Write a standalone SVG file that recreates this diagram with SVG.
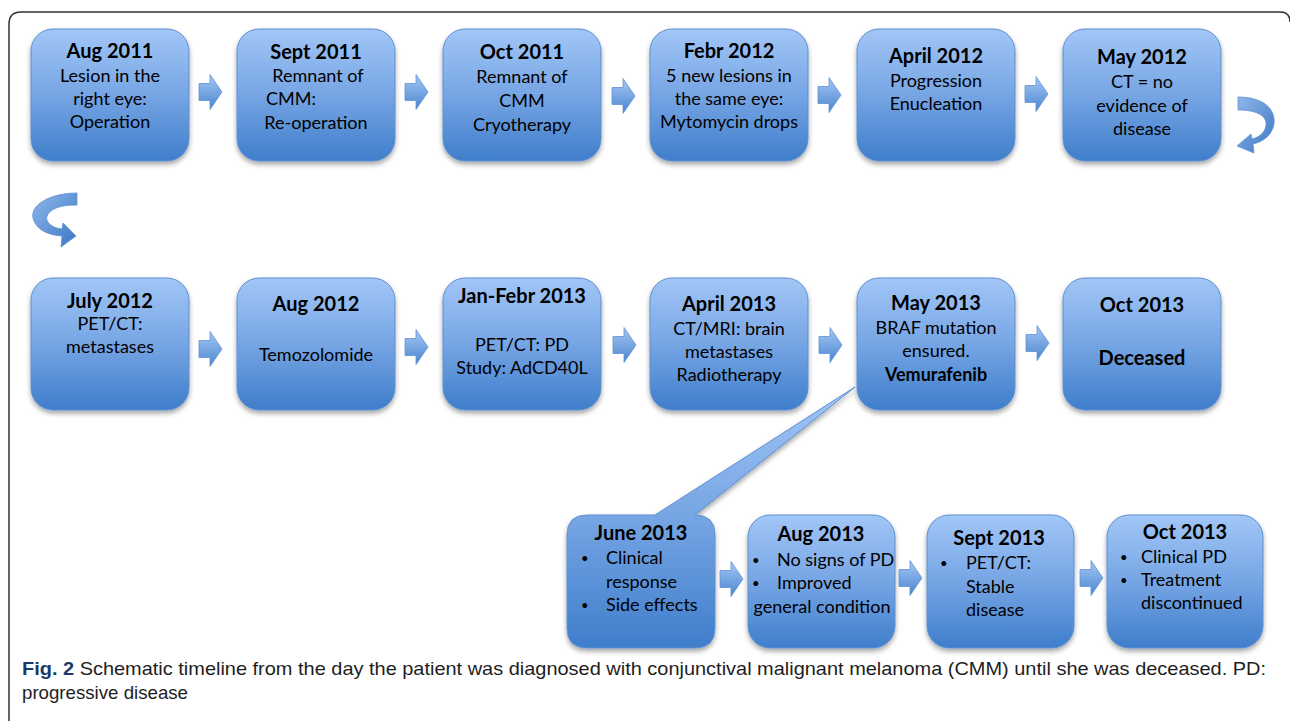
<svg xmlns="http://www.w3.org/2000/svg" width="1290" height="721" viewBox="0 0 1290 721">
<defs>
<linearGradient id="gBox" x1="0" y1="0" x2="0" y2="1">
<stop offset="0" stop-color="#a2c6f7"/>
<stop offset="0.5" stop-color="#76a5e4"/>
<stop offset="1" stop-color="#3f7ecb"/>
</linearGradient>
<linearGradient id="gArr" x1="0" y1="0" x2="0" y2="1">
<stop offset="0" stop-color="#a6c8f4"/>
<stop offset="1" stop-color="#4a86d0"/>
</linearGradient>
<linearGradient id="gCurve" x1="0" y1="0" x2="1" y2="1">
<stop offset="0" stop-color="#8fb6ea"/>
<stop offset="1" stop-color="#3c78c4"/>
</linearGradient>
<filter id="sh" x="-10%" y="-10%" width="120%" height="130%">
<feDropShadow dx="0" dy="3" stdDeviation="2.5" flood-color="#000" flood-opacity="0.35"/>
</filter>
<path id="arr" d="M0 -8.5 H11 V-17.5 L23 0 L11 17.5 V8.5 H0 Z"/>
</defs>
<style>
.box{fill:url(#gBox);stroke:#5d8fd0;stroke-width:1;filter:url(#sh)}
.a{fill:url(#gArr);stroke:#5f92d4;stroke-width:0.8}
.t{font-family:Lato,"Liberation Sans",sans-serif;font-size:20px;font-weight:bold;fill:#000;text-anchor:middle}
.b{font-family:Lato,"Liberation Sans",sans-serif;font-size:18px;fill:#000;text-anchor:middle}
.bl{font-family:Lato,"Liberation Sans",sans-serif;font-size:18px;fill:#000;text-anchor:start}
.dot{font-family:Lato,"Liberation Sans",sans-serif;font-size:13px;fill:#000;text-anchor:start}
.cap{font-family:"Liberation Sans",sans-serif;font-size:19px;fill:#1e1e1e}
</style>
<rect width="1290" height="721" fill="#fff"/>
<path d="M9 721 V24 Q9 12 21 12 H1280 Q1290 12 1290 22" fill="none" stroke="#333" stroke-width="1.5"/>

<g id="connectors">
<use href="#arr" class="a" x="199" y="92"/>
<use href="#arr" class="a" x="405" y="92"/>
<use href="#arr" class="a" x="612" y="96"/>
<use href="#arr" class="a" x="818" y="95"/>
<use href="#arr" class="a" x="1025" y="94"/>
<path class="a" style="fill:url(#gCurve)" d="M1238 97 C1262 97 1276 108 1274 124 C1272 136 1262 142 1253 144 L1254 153 L1237 146 L1251 134 L1252 139 C1261 137 1267 130 1266 122 C1264 113 1252 110 1238 110 Z"/>
<path class="a" style="fill:url(#gCurve)" d="M77 193 C50 193 30 205 33 218 C36 230 48 235 62 236 L61 247 L76 236 L63 223 L62 229 C52 228 45 222 47 216 C50 208 62 205 77 205 Z"/>
<use href="#arr" class="a" x="199" y="349"/>
<use href="#arr" class="a" x="405" y="347"/>
<use href="#arr" class="a" x="613" y="345"/>
<use href="#arr" class="a" x="819" y="345"/>
<use href="#arr" class="a" x="1026" y="343"/>
<use href="#arr" class="a" x="720" y="579"/>
<use href="#arr" class="a" x="899" y="578"/>
<use href="#arr" class="a" x="1080" y="578"/>
</g>

<g id="n1"><rect class="box" x="31" y="29" width="158" height="132" rx="22"/>
<text class="t" x="110" y="58">Aug 2011</text>
<text class="b" x="110" y="82">Lesion in the</text>
<text class="b" x="110" y="105">right eye:</text>
<text class="b" x="110" y="128">Operation</text></g>

<g id="n2"><rect class="box" x="237" y="29" width="158" height="132" rx="22"/>
<text class="t" x="316" y="59">Sept 2011</text>
<text class="b" x="318" y="82">Remnant of</text>
<text class="bl" x="266" y="105">CMM:</text>
<text class="b" x="316" y="129">Re-operation</text></g>

<g id="n3"><rect class="box" x="443" y="29" width="158" height="132" rx="22"/>
<text class="t" x="522" y="59">Oct 2011</text>
<text class="b" x="522" y="83">Remnant of</text>
<text class="b" x="522" y="107">CMM</text>
<text class="b" x="522" y="131">Cryotherapy</text></g>

<g id="n4"><rect class="box" x="650" y="29" width="158" height="132" rx="22"/>
<text class="t" x="729" y="58">Febr 2012</text>
<text class="b" x="729" y="82">5 new lesions in</text>
<text class="b" x="729" y="105">the same eye:</text>
<text class="b" x="729" y="128">Mytomycin drops</text></g>

<g id="n5"><rect class="box" x="857" y="29" width="158" height="132" rx="22"/>
<text class="t" x="936" y="63">April 2012</text>
<text class="b" x="936" y="87">Progression</text>
<text class="b" x="936" y="110">Enucleation</text></g>

<g id="n6"><rect class="box" x="1063" y="29" width="158" height="132" rx="22"/>
<text class="t" x="1142" y="64">May 2012</text>
<text class="b" x="1142" y="88">CT = no</text>
<text class="b" x="1142" y="112">evidence of</text>
<text class="b" x="1142" y="135">disease</text></g>

<g id="n7"><rect class="box" x="31" y="278" width="158" height="132" rx="22"/>
<text class="t" x="110" y="308">July 2012</text>
<text class="b" x="110" y="330">PET/CT:</text>
<text class="b" x="110" y="353">metastases</text></g>

<g id="n8"><rect class="box" x="237" y="278" width="158" height="132" rx="22"/>
<text class="t" x="316" y="311">Aug 2012</text>
<text class="b" x="316" y="361">Temozolomide</text></g>

<g id="n9"><rect class="box" x="443" y="278" width="158" height="132" rx="22"/>
<text class="t" x="522" y="303">Jan-Febr 2013</text>
<text class="b" x="522" y="351">PET/CT: PD</text>
<text class="b" x="522" y="374">Study: AdCD40L</text></g>

<g id="n10"><rect class="box" x="650" y="278" width="158" height="132" rx="22"/>
<text class="t" x="729" y="311">April 2013</text>
<text class="b" x="729" y="335">CT/MRI: brain</text>
<text class="b" x="729" y="358">metastases</text>
<text class="b" x="729" y="381">Radiotherapy</text></g>

<g id="n11"><rect class="box" x="857" y="278" width="158" height="132" rx="22"/>
<text class="t" x="936" y="310">May 2013</text>
<text class="b" x="936" y="334">BRAF mutation</text>
<text class="b" x="936" y="357">ensured.</text>
<text class="b" x="936" y="381" font-weight="bold">Vemurafenib</text></g>

<g id="n12"><rect class="box" x="1063" y="278" width="158" height="132" rx="22"/>
<text class="t" x="1142" y="312">Oct 2013</text>
<text class="t" x="1142" y="365" font-size="21">Deceased</text></g>

<g id="n13"><path class="box" d="M587 515 H655 L855 387 L695 515 H695 Q715 515 715 535 V628 Q715 648 695 648 H587 Q567 648 567 628 V535 Q567 515 587 515 Z"/>
<text class="t" x="641" y="540">June 2013</text>
<text class="dot" x="581" y="563">•</text>
<text class="bl" x="606" y="564">Clinical</text>
<text class="bl" x="606" y="588">response</text>
<text class="dot" x="581" y="610">•</text>
<text class="bl" x="606" y="611">Side effects</text></g>

<g id="n14"><rect class="box" x="748" y="515" width="147" height="133" rx="22"/>
<text class="t" x="821" y="541">Aug 2013</text>
<text class="dot" x="752" y="565">•</text>
<text class="bl" x="777" y="566">No signs of PD</text>
<text class="dot" x="752" y="588">•</text>
<text class="bl" x="777" y="589">Improved</text>
<text class="b" x="822" y="613">general condition</text></g>

<g id="n15"><rect class="box" x="927" y="515" width="147" height="133" rx="22"/>
<text class="t" x="999" y="545">Sept 2013</text>
<text class="dot" x="940" y="568">•</text>
<text class="bl" x="966" y="569">PET/CT:</text>
<text class="bl" x="966" y="593">Stable</text>
<text class="bl" x="966" y="616">disease</text></g>

<g id="n16"><rect class="box" x="1107" y="515" width="156" height="133" rx="22"/>
<text class="t" x="1185" y="539">Oct 2013</text>
<text class="dot" x="1120" y="562">•</text>
<text class="bl" x="1141" y="563">Clinical PD</text>
<text class="dot" x="1120" y="585">•</text>
<text class="bl" x="1141" y="586">Treatment</text>
<text class="bl" x="1141" y="609">discontinued</text></g>

<g id="caption">
<text class="cap" x="22" y="675" textLength="1244" lengthAdjust="spacingAndGlyphs"><tspan font-weight="bold" fill="#1a3a6a">Fig. 2</tspan> Schematic timeline from the day the patient was diagnosed with conjunctival malignant melanoma (CMM) until she was deceased. PD:</text>
<text class="cap" x="22" y="699" textLength="166" lengthAdjust="spacingAndGlyphs">progressive disease</text>
</g>
</svg>
